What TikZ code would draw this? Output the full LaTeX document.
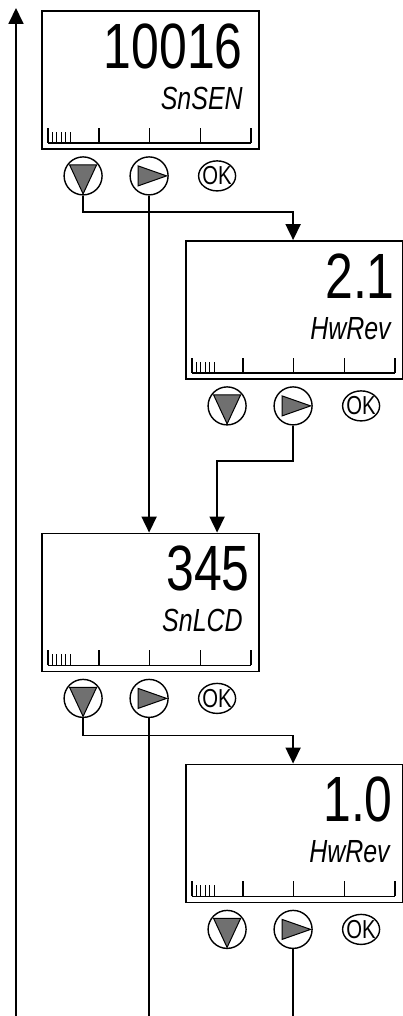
\documentclass[tikz,border=0pt]{standalone}
\usepackage{fontspec}
\usepackage{tikz}
\usetikzlibrary{shapes.geometric, arrows.meta, positioning}
\newfontfamily\lcdfont[FakeStretch=0.78]{Liberation Sans}

\begin{document}
\begin{tikzpicture}[
    x=1pt, y=-1pt,
    panel/.style = {rectangle, draw, line width=1.8pt, minimum width=217pt, minimum height=138pt, inner sep=0pt},
    lcdnum/.style = {anchor=base east, inner sep=0pt, font=\lcdfont\fontsize{64}{64}\selectfont},
    lcdtag/.style = {anchor=base east, inner sep=0pt, font=\lcdfont\itshape\fontsize{32}{32}\selectfont},
    btn/.style = {circle, draw, line width=1.4pt, minimum size=38pt, inner sep=0pt},
    okbtn/.style = {ellipse, draw, line width=1.4pt, minimum width=37pt, minimum height=30pt, inner sep=0pt, font=\lcdfont\fontsize{26}{26}\selectfont},
    tri/.style = {draw, line width=1pt, fill=black!56},
    scalebar/.style = {line width=1.3pt},
    flow/.style = {draw, line width=1.8pt, -{Triangle[width=15pt, length=16pt]}},
    wire/.style = {draw, line width=1.8pt}
]
    \useasboundingbox (0,0) rectangle (403,1016);

    % the four display panels with their keys
    \foreach \p/\cx/\cy/\val/\vin/\lab/\lin in {sen/150.5/80/10016/17/SnSEN/17, hwa/294.5/310/2.1/9/HwRev/13, lcd/150.5/602.5/345/10/SnLCD/17, hwb/294.5/833.5/1.0/11/HwRev/14} {
        \node [panel] (\p) at (\cx,\cy) {};
        \node [lcdnum] (\p-num) at ([shift={(-\vin,58)}]\p.north east) {\val};
        \node [lcdtag] (\p-tag) at ([shift={(-\lin,99)}]\p.north east) {\lab};
        % bar graph
        \draw [scalebar] ([shift={(7,-7)}]\p.south west) -- ++(203,0);
        \foreach \t in {7,57.75,108.5,159.25,210}
            \draw [scalebar] ([shift={(\t,-7)}]\p.south west) -- ++(0,-15);
        \foreach \k in {1,...,5}
            \draw [scalebar, line width=1pt] ([shift={(7+4.4*\k,-7)}]\p.south west) -- ++(0,-11);
        % keys
        \node [btn] (\p-dn) at ([shift={(42,26)}]\p.south west) {};
        \node [btn] (\p-rt) at ([shift={(108,26)}]\p.south west) {};
        \node [okbtn] (\p-ok) at ([shift={(176,26)}]\p.south west) {\makebox[0pt]{OK}};
        \filldraw [tri] ([shift={(-13.5,-11)}]\p-dn.center) -- ([shift={(13.5,-11)}]\p-dn.center) -- ([shift={(0,18)}]\p-dn.center) -- cycle;
        \filldraw [tri] ([shift={(-11,-10)}]\p-rt.center) -- ([shift={(17.5,0)}]\p-rt.center) -- ([shift={(-11,10)}]\p-rt.center) -- cycle;
    }

    \coordinate (floor) at (0,1016);
    \coordinate (home) at (16,1016);
    \coordinate (ret) at (16,8);

    \path [flow] (home) -- (ret);
    \path [flow] (sen-dn) -- ++(0,36) -| (hwa-rt |- hwa.north);
    \path [flow] (sen-rt) -- (sen-rt |- lcd.north);
    \path [flow] (hwa-rt) -- ++(0,55) -| (sen-ok |- lcd.north);
    \path [flow] (lcd-dn) -- ++(0,37) -| (hwb-rt |- hwb.north);
    \path [wire] (lcd-rt) -- (lcd-rt |- floor);
    \path [wire] (hwb-rt) -- (hwb-rt |- floor);
\end{tikzpicture}
\end{document}
